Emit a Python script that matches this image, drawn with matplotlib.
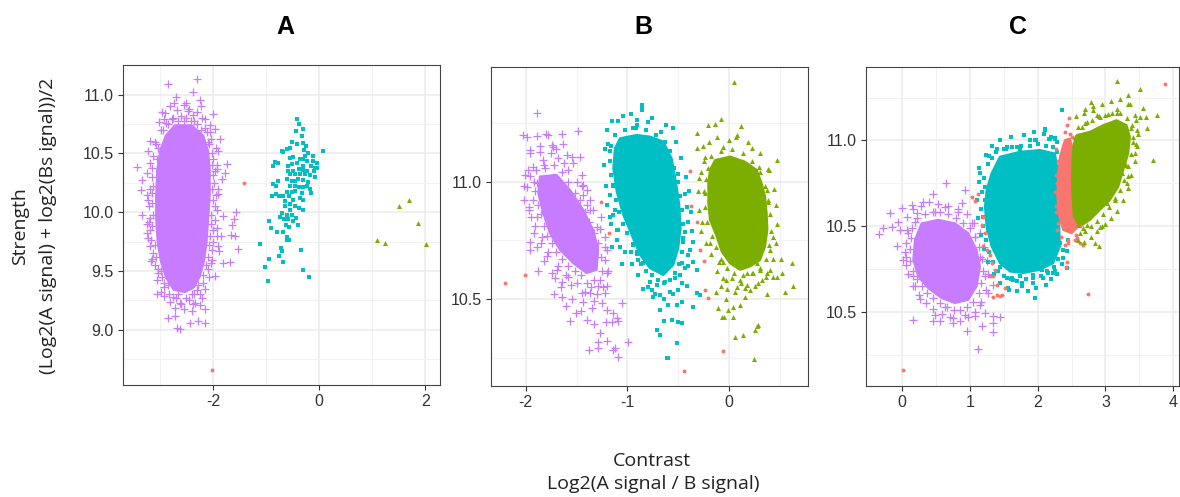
import numpy as np
import matplotlib
matplotlib.use('Agg')
import matplotlib.pyplot as plt

# ggplot default hue palette
RED = '#F8766D'
GREEN = '#7CAE00'
CYAN = '#00BFC4'
PURPLE = '#C77CFF'

# ---------------- panel A ----------------
a_purple_core = [(-2.72, 10.74), (-2.40, 10.74), (-2.18, 10.65), (-2.09, 10.52), (-2.06, 10.36),
                 (-2.06, 10.14), (-2.09, 9.94), (-2.12, 9.74), (-2.17, 9.58), (-2.25, 9.45),
                 (-2.36, 9.36), (-2.53, 9.32), (-2.74, 9.34), (-2.88, 9.44), (-2.98, 9.58),
                 (-3.04, 9.74), (-3.07, 9.94), (-3.07, 10.14), (-3.05, 10.36), (-2.99, 10.53),
                 (-2.89, 10.65)]
a_purple = [(-2.842, 11.088), (-2.308, 11.136), (-2.704, 10.983), (-2.729, 10.932), (-2.371, 11.022),
            (-2.515, 10.932), (-2.245, 10.954), (-2.956, 10.852), (-2.465, 10.861), (-1.993, 10.832),
            (-2.151, 10.790), (-2.918, 10.790), (-2.056, 10.738), (-1.868, 10.619), (-1.962, 10.705),
            (-3.188, 10.605), (-3.031, 10.548), (-1.899, 10.520), (-3.440, 10.386), (-3.333, 10.273),
            (-1.742, 10.406), (-1.930, 10.364), (-3.358, 10.188), (-1.773, 10.335), (-1.824, 10.279),
            (-3.157, 10.165), (-1.899, 10.159), (-3.346, 9.975), (-1.805, 9.972), (-1.572, 10.000),
            (-1.610, 9.938), (-3.207, 9.915), (-1.635, 9.892), (-1.930, 9.867), (-3.251, 9.824),
            (-1.849, 9.796), (-1.660, 9.810), (-1.585, 9.796), (-3.188, 9.716), (-1.899, 9.711),
            (-1.887, 9.668), (-1.522, 9.688), (-3.169, 9.589), (-2.012, 9.597), (-1.805, 9.569),
            (-1.679, 9.574), (-3.031, 9.484), (-1.962, 9.461), (-3.063, 9.308), (-2.918, 9.285),
            (-2.308, 9.342), (-2.339, 9.228), (-2.151, 9.177), (-2.717, 9.185), (-2.402, 9.157),
            (-2.717, 9.114), (-2.276, 9.072), (-2.151, 9.058), (-2.434, 9.058), (-2.685, 9.015),
            (-2.622, 9.006), (-2.842, 9.100), (-2.918, 9.398), (-2.622, 9.228), (-2.245, 9.214),
            (-3.05, 10.45), (-3.15, 10.30), (-3.20, 10.05), (-3.18, 9.85), (-3.12, 9.65),
            (-2.98, 9.50), (-2.85, 9.38), (-2.95, 10.70), (-2.85, 10.75), (-3.08, 10.58),
            (-3.25, 10.15), (-3.22, 9.78), (-2.00, 10.45), (-1.98, 10.25), (-1.97, 10.05),
            (-2.00, 9.85), (-2.02, 9.68), (-2.10, 9.52), (-2.18, 9.40), (-2.10, 10.60),
            (-2.15, 10.72), (-2.25, 9.30), (-1.95, 10.15), (-2.60, 10.82), (-2.50, 10.80),
            (-2.35, 10.78), (-2.75, 10.80), (-2.45, 10.88), (-2.30, 10.85), (-2.60, 9.22),
            (-2.45, 9.25), (-2.75, 9.28), (-2.35, 9.30), (-2.55, 9.18)]
a_purple_edge = [(-3.10, 10.60), (-3.12, 10.48), (-3.14, 10.38), (-3.13, 10.22), (-3.15, 10.08),
                 (-3.12, 9.98), (-3.14, 9.88), (-3.10, 9.72), (-3.08, 9.62), (-3.04, 9.52),
                 (-2.96, 9.45), (-2.92, 9.36), (-2.82, 9.30), (-2.70, 9.27), (-2.03, 10.62),
                 (-2.02, 10.50), (-2.01, 10.40), (-2.00, 10.32), (-2.02, 10.20), (-2.00, 10.10),
                 (-2.03, 9.98), (-2.04, 9.90), (-2.06, 9.80), (-2.07, 9.72), (-2.10, 9.62),
                 (-2.13, 9.55), (-2.18, 9.47), (-2.28, 9.38), (-2.40, 9.30), (-2.50, 9.27),
                 (-2.98, 10.70), (-2.88, 10.76), (-2.78, 10.79), (-2.66, 10.78), (-2.55, 10.78),
                 (-2.42, 10.78), (-2.30, 10.75), (-2.22, 10.70), (-2.12, 10.68), (-2.08, 10.58),
                 (-3.22, 10.52), (-3.19, 10.42), (-3.24, 10.33), (-3.19, 10.20), (-3.23, 10.10),
                 (-3.18, 9.95), (-3.24, 9.90), (-3.17, 9.76), (-3.15, 9.60), (-3.10, 9.55),
                 (-3.05, 9.42), (-2.97, 9.32), (-2.80, 9.24), (-2.66, 9.30), (-1.94, 10.55),
                 (-1.92, 10.40), (-1.96, 10.35), (-1.91, 10.20), (-1.93, 10.02), (-1.96, 9.93),
                 (-1.92, 9.80), (-1.99, 9.75), (-2.03, 9.57), (-2.07, 9.45), (-2.15, 9.35),
                 (-2.20, 9.27), (-2.38, 9.22), (-3.02, 10.77), (-2.90, 10.84), (-2.68, 10.87),
                 (-2.55, 10.91), (-2.38, 10.83), (-2.20, 10.80), (-2.06, 10.68), (-2.80, 10.90),
                 (-2.22, 10.90)]
a_cyan = [(-0.409, 10.790), (-0.371, 10.747), (-0.434, 10.690), (-0.308, 10.704), (-0.321, 10.648),
          (-0.503, 10.597), (-0.409, 10.582), (-0.296, 10.591), (-0.245, 10.562), (-0.283, 10.528),
          (-0.705, 10.520), (-0.673, 10.511), (-0.610, 10.534), (-0.547, 10.548), (0.082, 10.520),
          (-0.201, 10.500), (-0.120, 10.477), (-0.264, 10.477), (-0.547, 10.463), (-0.484, 10.472),
          (-0.358, 10.455), (-0.308, 10.455), (-0.233, 10.435), (-0.120, 10.435), (-0.044, 10.415),
          (-0.830, 10.426), (-0.780, 10.415), (-0.874, 10.392), (-0.579, 10.392), (-0.516, 10.406),
          (-0.421, 10.415), (-0.296, 10.392), (-0.157, 10.392), (-0.075, 10.378), (-0.032, 10.378),
          (-0.579, 10.350), (-0.484, 10.350), (-0.371, 10.364), (-0.308, 10.358), (-0.233, 10.350),
          (-0.095, 10.350), (-0.547, 10.321), (-0.453, 10.321), (-0.358, 10.321), (-0.264, 10.321),
          (-0.170, 10.313), (-0.075, 10.301), (-0.780, 10.264), (-0.862, 10.236), (-0.811, 10.227),
          (-0.610, 10.279), (-0.516, 10.264), (-0.453, 10.264), (-0.390, 10.279), (-0.296, 10.270),
          (-0.201, 10.256), (-0.547, 10.222), (-0.453, 10.227), (-0.371, 10.216), (-0.296, 10.216),
          (-0.233, 10.222), (-0.170, 10.199), (-0.151, 10.165), (-0.893, 10.137), (-0.811, 10.159),
          (-0.748, 10.137), (-0.673, 10.137), (-0.610, 10.171), (-0.516, 10.171), (-0.453, 10.179),
          (-0.327, 10.165), (-0.560, 10.137), (-0.642, 10.094), (-0.484, 10.108), (-0.358, 10.120),
          (-0.308, 10.108), (-0.547, 10.066), (-0.453, 10.057), (-0.371, 10.032), (-0.296, 10.023),
          (-0.642, 10.051), (-0.547, 10.023), (-0.705, 9.995), (-0.610, 9.980), (-0.516, 9.980),
          (-0.434, 9.952), (-0.736, 9.961), (-0.654, 9.944), (-0.937, 9.924), (-0.579, 9.938),
          (-0.484, 9.924), (-0.403, 9.895), (-0.623, 9.895), (-0.560, 9.875), (-0.912, 9.867),
          (-0.799, 9.830), (-0.686, 9.830), (-0.610, 9.790), (-0.560, 9.767), (-0.610, 9.767),
          (-1.113, 9.733), (-0.717, 9.697), (-0.705, 9.668), (-0.346, 9.677), (-0.943, 9.606),
          (-0.755, 9.631), (-0.673, 9.580), (-1.019, 9.532), (-0.308, 9.512), (-0.969, 9.418),
          (-0.189, 9.450)]
a_green = [(1.509, 10.057), (1.698, 10.105), (1.874, 9.904), (1.088, 9.767), (1.245, 9.739), (2.019, 9.733)]
a_red = [(-1.415, 10.247), (-2.025, 8.658)]

# ---------------- panel B ----------------
b_purple_core = [(-1.859, 11.022), (-1.696, 11.029), (-1.565, 10.965), (-1.434, 10.880), (-1.336, 10.794),
                 (-1.287, 10.709), (-1.303, 10.624), (-1.401, 10.610), (-1.532, 10.652), (-1.663, 10.709),
                 (-1.761, 10.780), (-1.827, 10.865), (-1.876, 10.951)]
b_purple = [(-1.892, 11.294), (-2.030, 11.199), (-1.991, 11.192), (-1.892, 11.195), (-1.801, 11.203),
            (-1.778, 11.199), (-1.647, 11.203), (-1.483, 11.218), (-1.958, 11.135), (-1.860, 11.128),
            (-1.745, 11.157), (-1.729, 11.149), (-1.637, 11.161), (-1.467, 11.107), (-2.007, 11.029),
            (-1.958, 11.024), (-1.991, 10.979), (-2.013, 10.922), (-1.964, 10.894), (-1.909, 10.811),
            (-1.958, 10.744), (-1.958, 10.709), (-1.712, 10.588), (-1.647, 10.574), (-1.647, 10.510),
            (-1.565, 10.408), (-1.506, 10.439), (-1.434, 10.489), (-1.401, 10.411), (-1.329, 10.394),
            (-1.211, 10.403), (-1.205, 10.453), (-1.139, 10.439), (-1.090, 10.408), (-1.270, 10.354),
            (-1.382, 10.283), (-1.287, 10.290), (-1.205, 10.322), (-1.123, 10.290), (-1.090, 10.254),
            (-1.352, 10.460), (-1.254, 10.482), (-1.450, 10.524), (-1.221, 10.524), (-1.205, 10.609),
            (-1.221, 10.666), (-1.205, 10.709), (-1.264, 10.851), (-1.368, 10.922), (-1.434, 10.943),
            (-1.434, 10.986), (-1.598, 11.114), (-1.532, 11.078), (-1.450, 11.029), (-1.401, 10.965),
            (-1.827, 11.093), (-1.925, 11.064), (-1.810, 11.057), (-1.892, 10.993), (-1.932, 10.922),
            (-1.892, 10.851), (-1.843, 10.766), (-1.794, 10.681), (-1.696, 10.624), (-1.581, 10.595),
            (-1.368, 10.524), (-1.287, 10.553), (-1.205, 10.553), (-1.548, 11.107), (-1.680, 11.100),
            (-1.368, 10.880), (-1.303, 10.808), (-1.221, 10.766), (-0.992, 10.316), (-1.287, 10.318),
            (-1.140, 10.283), (-1.156, 10.403), (-1.057, 10.482), (-1.106, 10.418)]
b_purple_edge = [(-1.90, 11.05), (-1.82, 11.07), (-1.72, 11.07), (-1.64, 11.04), (-1.58, 11.00),
                 (-1.52, 10.95), (-1.47, 10.92), (-1.42, 10.87), (-1.38, 10.83), (-1.33, 10.78),
                 (-1.29, 10.74), (-1.26, 10.68), (-1.25, 10.62), (-1.27, 10.58), (-1.33, 10.58),
                 (-1.40, 10.57), (-1.46, 10.60), (-1.52, 10.62), (-1.58, 10.64), (-1.64, 10.67),
                 (-1.70, 10.70), (-1.74, 10.74), (-1.79, 10.77), (-1.82, 10.81), (-1.85, 10.86),
                 (-1.88, 10.90), (-1.91, 10.96), (-1.92, 11.00), (-1.60, 10.60), (-1.50, 10.57),
                 (-1.36, 10.55), (-1.30, 10.52), (-1.85, 10.74), (-1.78, 10.70), (-1.68, 10.64),
                 (-1.55, 10.56), (-1.95, 10.85), (-1.98, 11.05), (-1.75, 11.12), (-1.62, 11.08),
                 (-1.50, 11.00), (-1.40, 10.90), (-1.96, 11.12), (-1.86, 11.15), (-1.70, 11.14),
                 (-1.58, 11.05), (-1.45, 10.98), (-1.34, 10.88), (-1.27, 10.80), (-1.22, 10.72),
                 (-1.19, 10.62), (-1.24, 10.55), (-1.33, 10.49), (-1.42, 10.53), (-1.54, 10.50),
                 (-1.65, 10.55), (-1.74, 10.61), (-1.82, 10.66), (-1.89, 10.72), (-1.92, 10.78),
                 (-1.97, 10.88), (-2.02, 10.98), (-1.88, 10.62), (-1.72, 10.52), (-1.46, 10.45),
                 (-1.60, 10.47)]
b_cyan_core = [(-1.074, 11.185), (-0.910, 11.199), (-0.779, 11.192), (-0.648, 11.171), (-0.566, 11.100),
               (-0.524, 11.000), (-0.491, 10.901), (-0.478, 10.801), (-0.501, 10.716), (-0.550, 10.645),
               (-0.648, 10.602), (-0.779, 10.631), (-0.877, 10.688), (-0.959, 10.773), (-1.041, 10.858),
               (-1.106, 10.958), (-1.139, 11.057), (-1.123, 11.142)]
b_cyan = [(-0.854, 11.327), (-0.861, 11.306), (-1.041, 11.281), (-0.910, 11.263), (-1.156, 11.259),
          (-0.795, 11.256), (-0.903, 11.242), (-0.943, 11.228), (-0.674, 11.210), (-0.556, 11.228),
          (-1.188, 11.159), (-1.172, 11.131), (-0.641, 11.145), (-0.687, 11.139), (-0.501, 11.031),
          (-1.139, 10.986), (-1.172, 10.943), (-0.501, 10.997), (-0.435, 10.946), (-1.123, 10.879),
          (-1.139, 10.858), (-0.419, 10.894), (-0.402, 10.830), (-1.090, 10.794), (-0.943, 10.733),
          (-0.910, 10.702), (-0.435, 10.787), (-0.353, 10.744), (-0.452, 10.744), (-0.894, 10.666),
          (-0.844, 10.652), (-0.402, 10.688), (-0.353, 10.659), (-0.320, 10.624), (-0.851, 10.541),
          (-0.763, 10.538), (-0.746, 10.510), (-0.681, 10.517), (-0.583, 10.531), (-0.501, 10.538),
          (-0.320, 10.524), (-0.288, 10.517), (-0.468, 10.489), (-0.419, 10.553), (-0.599, 10.474),
          (-0.681, 10.453), (-0.517, 10.474), (-0.566, 10.410), (-0.641, 10.406), (-0.501, 10.403),
          (-0.468, 10.396), (-0.714, 10.368), (-0.681, 10.347), (-0.517, 10.311), (-0.599, 10.247),
          (-0.353, 10.467), (-0.632, 10.574), (-0.533, 10.588), (-0.484, 10.602), (-0.779, 10.574),
          (-0.714, 10.560), (-0.435, 10.631), (-0.468, 10.652), (-1.155, 11.260), (-0.858, 11.323),
          (-0.550, 11.228), (-0.609, 10.247), (-0.517, 10.314), (-0.354, 10.467), (-1.172, 10.851),
          (-1.106, 10.794), (-1.150, 10.720), (-1.070, 10.720), (-1.050, 10.650), (-0.970, 10.700)]
b_cyan_edge = [(-1.12, 11.20), (-1.02, 11.22), (-0.92, 11.23), (-0.82, 11.22), (-0.72, 11.20),
               (-0.63, 11.17), (-0.58, 11.13), (-0.54, 11.06), (-0.51, 11.00), (-0.48, 10.94),
               (-0.46, 10.88), (-0.45, 10.82), (-0.45, 10.76), (-0.46, 10.70), (-0.49, 10.65),
               (-0.53, 10.61), (-0.58, 10.58), (-0.64, 10.57), (-0.70, 10.58), (-0.76, 10.60),
               (-0.82, 10.62), (-0.87, 10.65), (-0.91, 10.69), (-0.95, 10.73), (-1.00, 10.78),
               (-1.04, 10.82), (-1.08, 10.87), (-1.11, 10.92), (-1.14, 10.98), (-1.16, 11.03),
               (-1.17, 11.09), (-1.16, 11.15), (-1.20, 11.22), (-1.09, 11.26), (-0.97, 11.29),
               (-0.76, 11.27), (-0.62, 11.24), (-0.52, 11.17), (-0.47, 11.10), (-0.43, 11.02),
               (-0.40, 10.96), (-0.38, 10.87), (-0.37, 10.79), (-0.39, 10.71), (-0.41, 10.64),
               (-0.46, 10.57), (-0.55, 10.52), (-0.64, 10.50), (-0.73, 10.52), (-0.80, 10.55),
               (-0.90, 10.60), (-0.96, 10.65), (-1.02, 10.70), (-1.10, 10.75), (-1.16, 10.82),
               (-1.20, 10.90), (-1.21, 10.98), (-1.23, 11.07), (-1.22, 11.14)]
b_green_core = [(-0.140, 11.092), (0.007, 11.107), (0.154, 11.085), (0.269, 11.050), (0.318, 10.993),
                (0.351, 10.936), (0.367, 10.865), (0.374, 10.794), (0.351, 10.723), (0.302, 10.666),
                (0.203, 10.638), (0.105, 10.624), (0.007, 10.652), (-0.075, 10.702), (-0.124, 10.766),
                (-0.190, 10.837), (-0.206, 10.908), (-0.206, 10.993), (-0.190, 11.050)]
b_green = [(0.046, 11.426), (-0.085, 11.266), (-0.140, 11.246), (-0.206, 11.242), (0.112, 11.237),
           (-0.314, 11.206), (0.066, 11.189), (0.000, 11.178), (-0.196, 11.171), (-0.065, 11.146),
           (-0.321, 11.142), (0.220, 11.142), (-0.239, 11.104), (0.465, 11.092), (0.295, 11.061),
           (0.383, 11.053), (-0.294, 11.014), (-0.249, 10.962), (0.367, 10.965), (0.383, 10.915),
           (-0.272, 10.830), (0.433, 10.766), (-0.190, 10.737), (0.400, 10.709), (0.505, 10.671),
           (0.613, 10.655), (0.515, 10.609), (0.629, 10.555), (0.547, 10.531), (0.367, 10.521),
           (0.433, 10.592), (0.361, 10.595), (-0.098, 10.659), (-0.059, 10.659), (0.007, 10.666),
           (-0.131, 10.531), (-0.085, 10.553), (-0.065, 10.588), (-0.026, 10.541), (0.056, 10.531),
           (0.112, 10.567), (0.154, 10.545), (0.203, 10.538), (0.253, 10.553), (0.318, 10.581),
           (0.302, 10.624), (0.154, 10.510), (0.105, 10.474), (-0.032, 10.499), (-0.010, 10.453),
           (0.033, 10.464), (-0.108, 10.460), (-0.075, 10.425), (-0.052, 10.422), (0.033, 10.425),
           (0.056, 10.339), (0.131, 10.347), (0.269, 10.385), (0.285, 10.389), (0.253, 10.368),
           (0.243, 10.243), (0.105, 10.581), (0.023, 10.588), (0.171, 10.609), (0.236, 10.609),
           (0.269, 10.652), (0.400, 10.624), (0.465, 10.595)]
b_green_edge = [(-0.18, 11.11), (-0.08, 11.13), (0.03, 11.14), (0.13, 11.12), (0.22, 11.09),
                (0.30, 11.04), (0.35, 10.98), (0.38, 10.92), (0.40, 10.86), (0.41, 10.79),
                (0.39, 10.73), (0.36, 10.67), (0.30, 10.63), (0.22, 10.61), (0.13, 10.60),
                (0.05, 10.61), (-0.02, 10.63), (-0.08, 10.67), (-0.13, 10.72), (-0.17, 10.77),
                (-0.22, 10.83), (-0.24, 10.89), (-0.24, 10.95), (-0.23, 11.01), (-0.21, 11.06),
                (-0.26, 11.15), (-0.12, 11.19), (0.08, 11.20), (0.18, 11.17), (0.30, 11.12),
                (0.39, 11.05), (0.44, 10.97), (0.46, 10.90), (0.47, 10.82), (0.46, 10.74),
                (0.43, 10.67), (0.37, 10.61), (0.28, 10.57), (0.17, 10.56), (0.08, 10.55),
                (-0.03, 10.58), (-0.12, 10.62), (-0.18, 10.69), (-0.23, 10.74), (-0.28, 10.79),
                (-0.30, 10.88), (-0.31, 10.96), (-0.28, 11.04), (-0.25, 11.09)]
b_red = [(-2.203, 10.570), (-2.007, 10.602), (-1.264, 10.915), (-1.178, 10.783), (-0.386, 11.046),
         (-0.380, 10.898), (-0.314, 10.827), (-0.288, 10.709), (-0.245, 10.663), (-0.239, 10.538),
         (-0.206, 10.503), (-0.445, 10.193), (-0.065, 10.280)]

# ---------------- panel C ----------------
c_purple_core = [(0.286, 10.517), (0.532, 10.537), (0.778, 10.517), (0.975, 10.459), (1.098, 10.362),
                 (1.147, 10.265), (1.098, 10.149), (0.975, 10.071), (0.778, 10.052), (0.581, 10.081),
                 (0.384, 10.139), (0.237, 10.207), (0.163, 10.304), (0.187, 10.420)]
c_purple = [(0.640, 10.750), (0.458, 10.688), (0.925, 10.711), (0.310, 10.643), (0.138, 10.624),
            (-0.009, 10.604), (-0.182, 10.579), (0.212, 10.575), (0.483, 10.585), (0.630, 10.614),
            (0.876, 10.633), (1.024, 10.521), (-0.059, 10.527), (-0.147, 10.498), (-0.280, 10.488),
            (-0.344, 10.455), (-0.034, 10.478), (0.079, 10.459), (-0.083, 10.382), (0.040, 10.352),
            (0.015, 10.304), (0.050, 10.275), (0.163, 10.211), (0.187, 10.149), (0.261, 10.075),
            (0.483, 9.984), (0.458, 9.945), (0.556, 9.945), (0.753, 9.965), (0.753, 9.936),
            (0.630, 10.029), (0.925, 9.984), (1.073, 9.975), (1.221, 9.994), (1.344, 9.975),
            (1.442, 9.971), (1.344, 9.936), (1.344, 9.883), (1.172, 9.916), (0.950, 9.887),
            (1.122, 9.785), (0.163, 9.955), (1.147, 10.042), (1.270, 10.110), (1.344, 10.159),
            (1.221, 10.207), (1.147, 10.323), (1.073, 10.440), (0.187, 10.527), (0.827, 10.585),
            (0.064, 10.556)]
c_purple_edge = [(0.22, 10.55), (0.33, 10.57), (0.45, 10.58), (0.56, 10.58), (0.67, 10.57),
                 (0.79, 10.55), (0.90, 10.52), (1.00, 10.49), (1.08, 10.44), (1.14, 10.38),
                 (1.18, 10.31), (1.19, 10.24), (1.17, 10.17), (1.13, 10.11), (1.05, 10.06),
                 (0.96, 10.03), (0.86, 10.01), (0.76, 10.01), (0.66, 10.03), (0.56, 10.05),
                 (0.46, 10.08), (0.37, 10.11), (0.29, 10.15), (0.22, 10.19), (0.16, 10.24),
                 (0.12, 10.30), (0.12, 10.37), (0.13, 10.43), (0.15, 10.49), (0.16, 10.60),
                 (0.28, 10.62), (0.40, 10.64), (0.53, 10.63), (0.68, 10.62), (0.82, 10.60),
                 (0.95, 10.57), (1.06, 10.52), (1.15, 10.46), (1.21, 10.38), (1.25, 10.30),
                 (1.26, 10.22), (1.23, 10.13), (1.17, 10.06), (1.08, 10.00), (0.97, 9.97),
                 (0.85, 9.95), (0.70, 9.97), (0.58, 9.99), (0.46, 10.02), (0.35, 10.05),
                 (0.25, 10.10), (0.16, 10.15), (0.09, 10.22), (0.05, 10.32), (0.05, 10.40),
                 (0.07, 10.48)]
c_cyan_core = [(1.442, 10.905), (1.737, 10.934), (2.032, 10.944), (2.254, 10.924), (2.303, 10.808),
               (2.303, 10.653), (2.318, 10.498), (2.328, 10.382), (2.229, 10.285), (2.032, 10.246),
               (1.786, 10.227), (1.590, 10.236), (1.442, 10.285), (1.319, 10.382), (1.245, 10.498),
               (1.221, 10.614), (1.245, 10.711), (1.319, 10.808)]
c_cyan = [(2.352, 11.180), (2.106, 11.064), (2.254, 11.017), (2.170, 11.011), (1.959, 11.002),
          (1.540, 10.959), (1.230, 10.915), (1.285, 10.909), (1.147, 10.812), (1.221, 10.730),
          (1.221, 10.653), (1.186, 10.556), (1.270, 10.479), (1.319, 10.420), (1.393, 10.343),
          (1.442, 10.265), (1.540, 10.197), (1.639, 10.188), (1.762, 10.168), (1.959, 10.081),
          (1.565, 10.139), (1.737, 10.207), (1.934, 10.217), (2.131, 10.236), (2.254, 10.236),
          (2.377, 10.314), (2.426, 10.353), (2.451, 10.420), (2.328, 10.401), (2.278, 10.934),
          (1.393, 10.953), (1.688, 10.963), (1.885, 11.002), (1.737, 10.944), (2.362, 11.180),
          (2.106, 11.060), (1.974, 11.002), (2.180, 11.011), (2.254, 11.011), (1.531, 10.953),
          (2.426, 10.256), (2.229, 10.226), (2.082, 10.198), (1.934, 10.168), (1.762, 10.149),
          (1.614, 10.197), (2.057, 10.246)]
c_cyan_edge = [(1.38, 10.93), (1.50, 10.95), (1.62, 10.96), (1.75, 10.97), (1.88, 10.97),
               (2.00, 10.98), (2.12, 10.97), (2.22, 10.96), (1.18, 10.70), (1.17, 10.60),
               (1.19, 10.50), (1.23, 10.42), (1.28, 10.35), (1.34, 10.29), (1.41, 10.24),
               (1.50, 10.21), (1.60, 10.19), (1.70, 10.18), (1.82, 10.19), (1.93, 10.20),
               (2.05, 10.21), (2.15, 10.23), (2.24, 10.26), (2.30, 10.31), (1.20, 10.78),
               (1.27, 10.86), (1.33, 10.90), (1.32, 10.97), (1.45, 11.00), (1.60, 11.02),
               (1.80, 11.03), (1.95, 11.05), (2.10, 11.04), (2.20, 11.02), (2.29, 10.99),
               (1.13, 10.76), (1.11, 10.65), (1.12, 10.55), (1.16, 10.45), (1.21, 10.37),
               (1.27, 10.29), (1.35, 10.22), (1.45, 10.17), (1.57, 10.13), (1.70, 10.12),
               (1.85, 10.12), (1.98, 10.14), (2.12, 10.16), (2.20, 10.19), (2.29, 10.22),
               (2.36, 10.28), (2.38, 10.36), (1.14, 10.84)]
c_red_core = [(2.402, 11.002), (2.475, 11.011), (2.524, 10.944), (2.534, 10.827), (2.549, 10.711),
              (2.584, 10.595), (2.598, 10.498), (2.500, 10.459), (2.377, 10.478), (2.318, 10.556),
              (2.288, 10.672), (2.303, 10.808), (2.328, 10.905), (2.377, 10.973)]
c_red = [(1.024, 10.672), (1.073, 10.647), (1.112, 10.688), (1.196, 10.556), (1.181, 10.508),
         (1.221, 10.459), (1.196, 10.382), (1.245, 10.362), (1.294, 10.333), (1.319, 10.285),
         (1.368, 10.246), (1.294, 10.207), (1.344, 10.207), (1.393, 10.159), (1.393, 10.101),
         (1.442, 10.091), (1.344, 10.087), (0.015, 9.661), (2.465, 11.128), (2.426, 11.089),
         (2.402, 11.050), (2.475, 11.040), (2.500, 11.021), (2.623, 10.401), (2.574, 10.430),
         (2.402, 10.391), (2.426, 10.294), (2.746, 10.106), (3.878, 11.331), (2.280, 10.750),
         (2.270, 10.620), (2.300, 10.520), (2.450, 10.400), (2.550, 10.420), (2.620, 10.500),
         (2.350, 10.850), (2.450, 11.000), (1.516, 10.139), (1.467, 10.101), (2.416, 10.265),
         (2.663, 10.391), (2.27, 10.95), (2.30, 10.88), (2.27, 10.80), (2.26, 10.70),
         (2.27, 10.58), (2.29, 10.48), (2.35, 10.44), (2.45, 10.42), (2.56, 10.45)]
c_green_core = [(2.574, 11.031), (2.771, 11.050), (2.967, 11.089), (3.164, 11.118), (3.312, 11.089),
                (3.361, 11.021), (3.336, 10.924), (3.262, 10.827), (3.189, 10.730), (3.066, 10.653),
                (2.918, 10.595), (2.771, 10.537), (2.623, 10.498), (2.534, 10.556), (2.515, 10.672),
                (2.505, 10.789), (2.515, 10.905), (2.534, 10.982)]
c_green = [(3.174, 11.347), (3.509, 11.298), (3.326, 11.263), (2.780, 11.225), (3.336, 11.215),
           (2.697, 11.186), (2.810, 11.180), (3.164, 11.186), (2.879, 11.147), (3.558, 11.192),
           (3.764, 11.151), (3.509, 11.137), (3.597, 11.137), (3.450, 11.118), (3.607, 11.070),
           (2.731, 11.108), (3.164, 11.161), (3.410, 11.021), (3.484, 11.040), (3.435, 10.924),
           (3.302, 10.856), (3.336, 10.792), (3.312, 10.750), (3.140, 10.663), (3.017, 10.634),
           (3.695, 10.885), (2.918, 10.498), (2.943, 10.502), (2.845, 10.405), (2.908, 10.382),
           (2.721, 10.508), (2.598, 10.508), (2.672, 10.488), (3.238, 10.808), (3.385, 11.089),
           (3.041, 11.157), (2.918, 11.137), (2.647, 11.079), (2.549, 11.021)]
c_green_edge = [(2.60, 11.08), (2.70, 11.10), (2.80, 11.12), (2.90, 11.14), (3.00, 11.15),
                (3.10, 11.16), (3.22, 11.16), (3.32, 11.13), (3.38, 11.07), (3.40, 10.99),
                (3.38, 10.92), (3.33, 10.85), (3.28, 10.77), (3.22, 10.71), (3.14, 10.65),
                (3.05, 10.61), (2.96, 10.57), (2.87, 10.53), (2.78, 10.50), (2.70, 10.47),
                (2.62, 10.46), (3.45, 10.98), (2.57, 11.14), (2.68, 11.16), (2.82, 11.20),
                (2.95, 11.21), (3.08, 11.23), (3.22, 11.24), (3.36, 11.21), (3.44, 11.15),
                (3.47, 11.06), (3.46, 10.97), (3.43, 10.88), (3.38, 10.80), (3.33, 10.72),
                (3.26, 10.65), (3.17, 10.59), (3.08, 10.55), (2.99, 10.51), (2.88, 10.47),
                (2.78, 10.44), (2.69, 10.41), (2.60, 10.42)]

# axis setup per panel
titles = ['A', 'B', 'C']
x_limits = [(-3.70, 2.28), (-2.34, 0.77), (-0.54, 4.09)]
y_limits = [(8.53, 11.25), (10.13, 11.49), (9.57, 11.43)]
x_ticks = [[-2, 0, 2], [-2, -1, 0], [0, 1, 2, 3, 4]]
x_minor = [[-3, -1, 1], [-1.5, -0.5, 0.5], [0.5, 1.5, 2.5, 3.5]]
y_ticks = [[9.0, 9.5, 10.0, 10.5, 11.0], [10.5, 11.0], [10.0, 10.5, 11.0]]
y_tick_labels = [['9.0', '9.5', '10.0', '10.5', '11.0'], ['10.5', '11.0'], ['10.5', '10.5', '11.0']]
y_minor = [[8.75, 9.25, 9.75, 10.25, 10.75], [10.25, 10.75, 11.25], [9.75, 10.25, 10.75, 11.25]]

# (dense core outline, points, colour, marker) in drawing order
panels = [
    [(a_purple_core, a_purple + a_purple_edge, PURPLE, '+'), (None, a_red, RED, 'o'),
     (None, a_cyan, CYAN, 's'), (None, a_green, GREEN, '^')],
    [(b_purple_core, b_purple + b_purple_edge, PURPLE, '+'), (b_cyan_core, b_cyan + b_cyan_edge, CYAN, 's'),
     (b_green_core, b_green + b_green_edge, GREEN, '^'), (None, b_red, RED, 'o')],
    [(c_purple_core, c_purple + c_purple_edge, PURPLE, '+'), (c_cyan_core, c_cyan + c_cyan_edge, CYAN, 's'),
     (c_red_core, c_red, RED, 'o'), (c_green_core, c_green + c_green_edge, GREEN, '^')],
]

marker_size = {'+': 26, 's': 10, '^': 13, 'o': 8}

fig = plt.figure(figsize=(11.8, 4.97), dpi=100)
axes_boxes = [[0.1040, 0.2254, 0.2689, 0.6432],
              [0.4161, 0.2239, 0.2684, 0.6419],
              [0.7336, 0.2239, 0.2658, 0.6419]]

for i, box in enumerate(axes_boxes):
    ax = fig.add_axes(box)
    ax.set_xlim(*x_limits[i])
    ax.set_ylim(*y_limits[i])
    ax.set_xticks(x_ticks[i])
    ax.set_xticklabels([str(t) for t in x_ticks[i]])
    ax.set_xticks(x_minor[i], minor=True)
    ax.set_yticks(y_ticks[i])
    ax.set_yticklabels(y_tick_labels[i])
    ax.set_yticks(y_minor[i], minor=True)
    ax.grid(which='major', color='#EBEBEB', lw=1.1)
    ax.grid(which='minor', color='#F2F2F2', lw=0.8)
    ax.set_axisbelow(True)
    ax.tick_params(which='major', direction='out', length=3.5, width=0.8, color='#333333',
                   labelsize=11.5, labelcolor='#333333', pad=3)
    ax.tick_params(which='minor', length=0)
    for lab in ax.get_xticklabels() + ax.get_yticklabels():
        lab.set_fontfamily('Liberation Sans')
    for s in ax.spines.values():
        s.set_color('#444444')
        s.set_linewidth(0.8)

    for core, pts, color, marker in panels[i]:
        if core is not None:
            c = np.array(core)
            ax.fill(c[:, 0], c[:, 1], color=color, lw=1.5, joinstyle='round', zorder=2)
        p = np.array(pts)
        if marker == '+':
            ax.scatter(p[:, 0], p[:, 1], marker='+', s=marker_size['+'], color=color,
                       linewidths=0.9, zorder=3)
        else:
            ax.scatter(p[:, 0], p[:, 1], marker=marker, s=marker_size[marker], color=color,
                       linewidths=0, zorder=3)

# panel letters
for t, xc in zip(titles, [285, 643, 1018]):
    fig.text(xc / 1180, 1 - 27 / 497, t, ha='center', va='center', fontsize=18,
             fontweight='bold', family='Liberation Sans')

# axis titles
fig.text(20 / 1180, 1 - 226 / 497, 'Strength', rotation=90, ha='center', va='center',
         fontsize=14, family='Open Sans', color='#222222')
fig.text(48 / 1180, 1 - 226 / 497, '(Log2(A signal) + log2(Bs ignal))/2', rotation=90,
         ha='center', va='center', fontsize=14, family='Open Sans', color='#222222')
fig.text(652 / 1180, 1 - 461 / 497, 'Contrast', ha='center', va='center',
         fontsize=14, family='Open Sans', color='#222222')
fig.text(653 / 1180, 1 - 484 / 497, 'Log2(A signal / B signal)', ha='center', va='center',
         fontsize=14, family='Open Sans', color='#222222')

fig.savefig('out.png', dpi=100)
